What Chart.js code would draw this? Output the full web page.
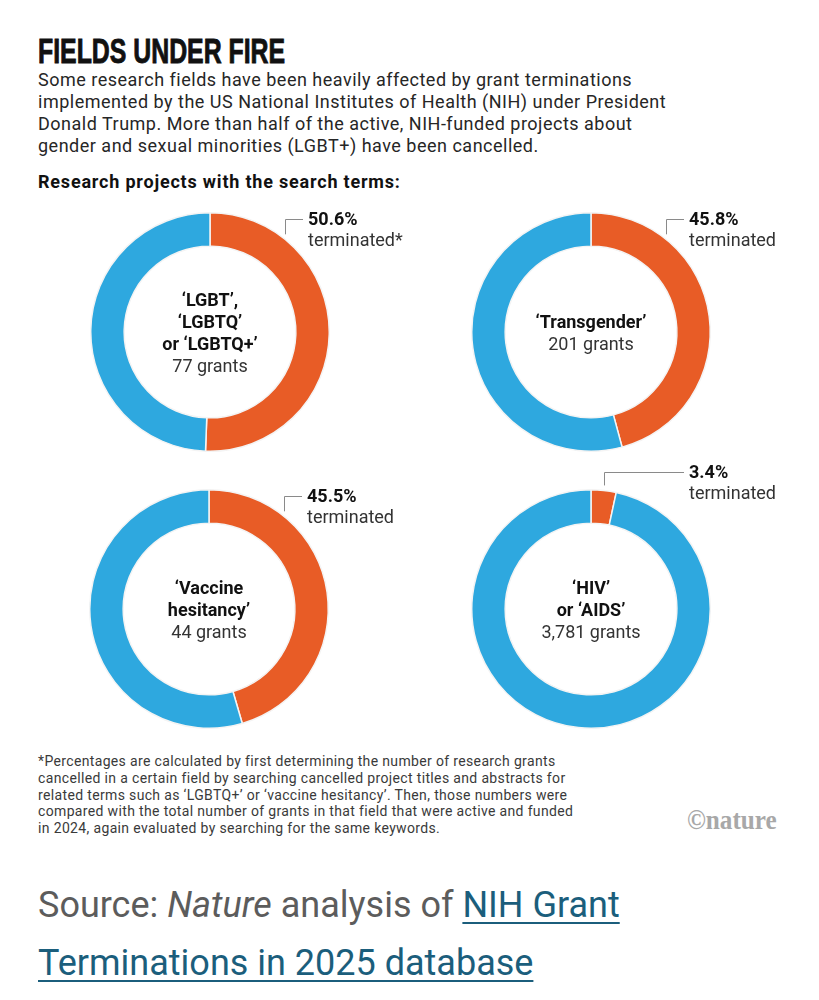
<!DOCTYPE html>
<html lang="en">
<head>
    <meta charset="UTF-8">
    <title>Fields under fire</title>
    <script src="https://cdn.jsdelivr.net/npm/chart.js"></script>
    <style>
        body {
            margin: 0;
            background: #fff;
            font-family: Roboto, sans-serif;
        }
        .page {
            position: relative;
            width: 819px;
            height: 1000px;
            overflow: hidden;
        }
        .abs {
            position: absolute;
            left: 38px;
            margin: 0;
        }
        .title {
            top: 33px;
            font-family: "Liberation Sans", sans-serif;
            font-weight: bold;
            font-size: 35px;
            line-height: 35px;
            color: #111;
            -webkit-text-stroke: 0.9px #111;
            transform: scaleX(0.71);
            transform-origin: left top;
            white-space: nowrap;
        }
        .intro {
            top: 69px;
            font-size: 18px;
            line-height: 22px;
            letter-spacing: 0.5px;
            color: #262626;
            width: 780px;
        }
        .lead {
            top: 171px;
            font-size: 18px;
            line-height: 22px;
            letter-spacing: 0.8px;
            font-weight: bold;
            color: #111;
        }
        .donut {
            position: absolute;
            width: 360px;
            height: 300px;
        }
        .note {
            top: 753px;
            font-size: 14px;
            line-height: 16.75px;
            letter-spacing: 0.35px;
            color: #3a3a3a;
            width: 640px;
        }
        .logo {
            left: 687px;
            top: 805px;
            font-family: "Liberation Serif", serif;
            font-weight: bold;
            font-size: 28px;
            line-height: 30px;
            color: #a8a8a8;
            transform: scaleX(0.9);
            transform-origin: left top;
        }
        .source {
            top: 876px;
            font-size: 36px;
            line-height: 58px;
            color: #5c5c5c;
            width: 780px;
        }
        .source a {
            color: #1b5e7c;
            text-decoration: underline;
            text-underline-offset: 5px;
            text-decoration-thickness: 2px;
        }
    </style>
</head>
<body>
<div class="page">
    <div class="abs title">FIELDS UNDER FIRE</div>
    <div class="abs intro">Some research fields have been heavily affected by grant terminations<br>implemented by the US National Institutes of Health (NIH) under President<br>Donald Trump. More than half of the active, NIH-funded projects about<br>gender and sexual minorities (LGBT+) have been cancelled.</div>
    <div class="abs lead">Research projects with the search terms:</div>

    <div class="donut" style="left:90px; top:172px;"><canvas id="donut0" width="360" height="300"></canvas></div>
    <div class="donut" style="left:471px; top:172px;"><canvas id="donut1" width="360" height="300"></canvas></div>
    <div class="donut" style="left:89px; top:449px;"><canvas id="donut2" width="360" height="300"></canvas></div>
    <div class="donut" style="left:471px; top:449px;"><canvas id="donut3" width="360" height="300"></canvas></div>

    <div class="abs note">*Percentages are calculated by first determining the number of research grants<br>cancelled in a certain field by searching cancelled project titles and abstracts for<br>related terms such as ‘LGBTQ+’ or ‘vaccine hesitancy’. Then, those numbers were<br>compared with the total number of grants in that field that were active and funded<br>in 2024, again evaluated by searching for the same keywords.</div>
    <div class="abs logo">©nature</div>

    <div class="abs source">Source: <i>Nature</i> analysis of <a href="#">NIH Grant<br>Terminations in 2025 database</a></div>
</div>

<script>
    // Search terms (drawn in the middle of each ring)
    const searchTerms = [
        ['‘LGBT’,', '‘LGBTQ’', 'or ‘LGBTQ+’'],
        ['‘Transgender’'],
        ['‘Vaccine', 'hesitancy’'],
        ['‘HIV’', 'or ‘AIDS’']
    ];
    const grantCounts = [77, 201, 44, 3781];
    const terminatedPct = [50.6, 45.8, 45.5, 3.4];
    const pctNotes = ['terminated*', 'terminated', 'terminated', 'terminated'];

    const ORANGE = '#e85c26';
    const BLUE = '#2ea8df';

    // draws the text in the hole and the callout for the orange slice
    const ringLabels = {
        id: 'ringLabels',
        afterDraw(chart, args, opts) {
            const ctx = chart.ctx;
            const arc = chart.getDatasetMeta(0).data[0];
            const cx = arc.x, cy = arc.y, R = arc.outerRadius;

            ctx.save();
            ctx.textAlign = 'center';
            ctx.textBaseline = 'middle';
            const lines = opts.terms.length + 1;
            const lh = 22;
            let y = cy + 2 - (lines - 1) * lh / 2;
            ctx.fillStyle = '#111';
            ctx.font = 'bold 18px Roboto';
            opts.terms.forEach(t => {
                ctx.fillText(t, cx, y);
                y += lh;
            });
            ctx.fillStyle = '#333';
            ctx.font = '18px Roboto';
            ctx.fillText(opts.grants.toLocaleString('en-US') + ' grants', cx, y);

            // callout
            let a = (arc.startAngle + arc.endAngle) / 2 + Math.PI / 2;
            a = Math.min(a, 39 * Math.PI / 180);
            const ax = cx + R * Math.sin(a);
            const ay = cy - R * Math.cos(a) - 5;
            const ly = Math.min(cy - 113, ay - 13);
            ctx.strokeStyle = '#8a8a8a';
            ctx.lineWidth = 1;
            ctx.beginPath();
            ctx.moveTo(Math.round(ax) + 0.5, ay);
            ctx.lineTo(Math.round(ax) + 0.5, Math.round(ly) + 0.5);
            ctx.lineTo(cx + 93, Math.round(ly) + 0.5);
            ctx.stroke();

            ctx.textAlign = 'left';
            ctx.fillStyle = '#111';
            ctx.font = 'bold 18px Roboto';
            ctx.fillText(opts.pct.toFixed(1) + '%', cx + 98, ly + 1);
            ctx.fillStyle = '#333';
            ctx.font = '18px Roboto';
            ctx.fillText(opts.note, cx + 98, ly + 22);
            ctx.restore();
        }
    };

    terminatedPct.forEach((p, i) => {
        new Chart(document.getElementById('donut' + i), {
            type: 'doughnut',
            data: {
                labels: ['Terminated', 'Active'],
                datasets: [{
                    data: [p, 100 - p],
                    backgroundColor: [ORANGE, BLUE],
                    borderColor: '#f4f4f4',
                    borderWidth: 1.5
                }]
            },
            options: {
                responsive: false,
                animation: false,
                events: [],
                cutout: '72%',
                layout: { padding: { left: 0, right: 120, top: 40, bottom: 20 } },
                plugins: {
                    legend: { display: false },
                    tooltip: { enabled: false },
                    ringLabels: {
                        terms: searchTerms[i],
                        grants: grantCounts[i],
                        pct: p,
                        note: pctNotes[i]
                    }
                }
            },
            plugins: [ringLabels]
        });
    });
</script>
</body>
</html>
